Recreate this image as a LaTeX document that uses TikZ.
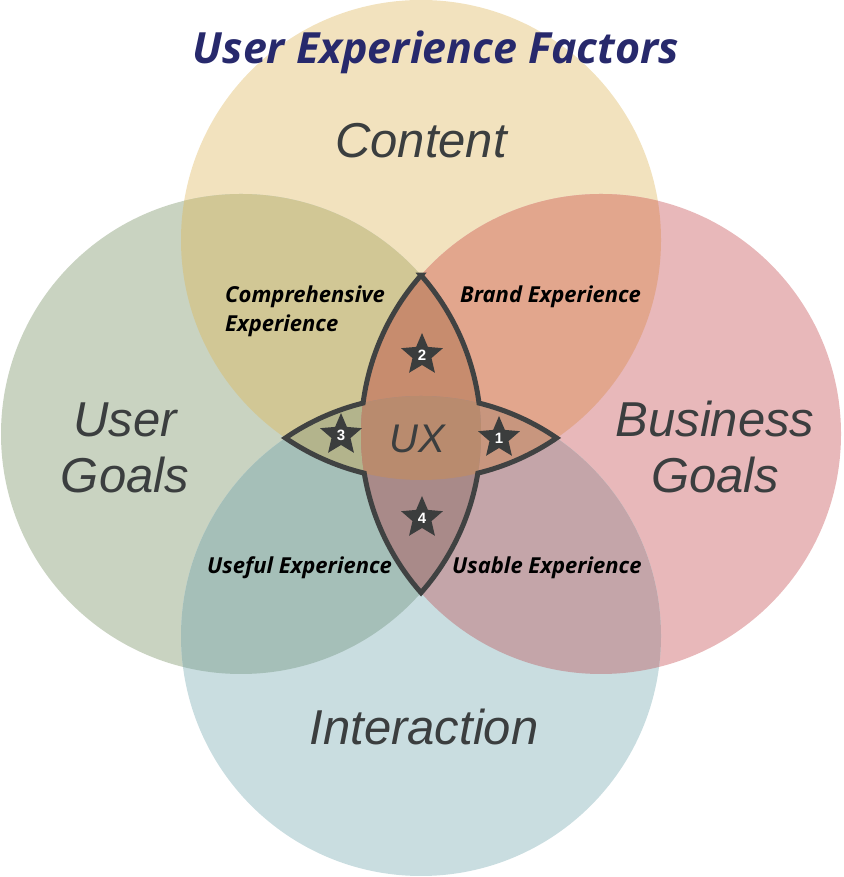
\documentclass[tikz,border=0pt]{standalone}
\usepackage{fontspec}
\setmainfont{Liberation Sans}
\newfontfamily\labfont{Open Sans}
\newfontfamily\bigfont{Liberation Sans}
\usetikzlibrary{shapes.geometric}
\definecolor{colC}{HTML}{F2E2BE}
\definecolor{colU}{HTML}{C9D3C1}
\definecolor{colB}{HTML}{E8B8BA}
\definecolor{colI}{HTML}{C9DDE0}
\definecolor{colCU}{HTML}{D1C795}
\definecolor{colCB}{HTML}{E2A68D}
\definecolor{colUI}{HTML}{A5BFB8}
\definecolor{colBI}{HTML}{C4A5A9}
\definecolor{colCUI}{HTML}{B3B48C}
\definecolor{colCBI}{HTML}{C8967E}
\definecolor{colCUB}{HTML}{C78C6E}
\definecolor{colUBI}{HTML}{A98A89}
\definecolor{colAll}{HTML}{B98B6E}
\definecolor{linegray}{HTML}{404242}
\definecolor{stargray}{HTML}{3B3D3D}
\definecolor{bigtext}{HTML}{3B3E3F}
\definecolor{titleblue}{HTML}{27296C}
\begin{document}
\begin{tikzpicture}[x=1pt,y=1pt,
  big/.style={font=\bigfont\fontsize{49}{56}\selectfont\itshape, text=bigtext, inner sep=0pt, anchor=base},
  lab/.style={font=\labfont\fontsize{22}{29}\selectfont\bfseries\itshape, text=black, inner sep=0pt, anchor=base west},
  numstar/.style={star, star points=5, star point ratio=2.2, minimum size=44pt, fill=stargray, text=white, inner sep=0pt, font=\fontsize{15}{15}\selectfont\bfseries},
  outline/.style={draw=linegray, line width=5pt, line join=miter}]
\useasboundingbox (0,0) rectangle (843,877);
\def\R{240}
\coordinate (cC) at (421,637);
\coordinate (cU) at (241,443);
\coordinate (cB) at (601,443);
\coordinate (cI) at (421,241);
% single circles
\fill[colC] (cC) circle[radius=\R];
\fill[colU] (cU) circle[radius=\R];
\fill[colB] (cB) circle[radius=\R];
\fill[colI] (cI) circle[radius=\R];
% pairwise
\begin{scope}
  \clip (cC) circle[radius=\R];
  \fill[colCU] (cU) circle[radius=\R];
  \fill[colCB] (cB) circle[radius=\R];
\end{scope}
\begin{scope}
  \clip (cI) circle[radius=\R];
  \fill[colUI] (cU) circle[radius=\R];
  \fill[colBI] (cB) circle[radius=\R];
\end{scope}
% horizontal lens
\begin{scope}
  \clip (cC) circle[radius=\R];
  \clip (cI) circle[radius=\R];
  \fill[colCUI] (cU) circle[radius=\R];
  \fill[colCBI] (cB) circle[radius=\R];
\end{scope}
% vertical lens
\begin{scope}
  \clip (cU) circle[radius=\R];
  \clip (cB) circle[radius=\R];
  \fill[colCUB] (cC) circle[radius=\R];
  \fill[colUBI] (cI) circle[radius=\R];
\end{scope}
% centre
\begin{scope}
  \clip (cC) circle[radius=\R];
  \clip (cI) circle[radius=\R];
  \clip (cU) circle[radius=\R];
  \fill[colAll] (cB) circle[radius=\R];
\end{scope}
% outline of the two lenses
\coordinate (T) at (421,601.75);
\draw[outline] (T)
  arc[start angle=41.41, end angle=7.40, radius=\R]
  arc[start angle=76.02, end angle=55.59, radius=\R]
  arc[start angle=-55.59, end angle=-76.31, radius=\R]
  arc[start angle=-9.40, end angle=-41.41, radius=\R]
  arc[start angle=221.41, end angle=189.40, radius=\R]
  arc[start angle=256.31, end angle=235.59, radius=\R]
  arc[start angle=124.41, end angle=103.98, radius=\R]
  arc[start angle=172.60, end angle=138.59, radius=\R] -- cycle;
% stars
\node[numstar] (s2) at (422,522) {2};
\node[numstar] (s3) at (341,442) {3};
\node[numstar] (s1) at (499,439) {1};
\node[numstar] (s4) at (422,359) {4};
% big labels
\node[big] (content) at (421,719) {Content};
\node[big] (user) at (125,440) {\begin{tabular}[t]{@{}c@{}}User\\Goals\end{tabular}};
\node[big] (business) at (715,440) {\begin{tabular}[t]{@{}c@{}}Business\\Goals\end{tabular}};
\node[big] (interaction) at (424,132) {Interaction};
\node[big, font=\bigfont\fontsize{40}{40}\selectfont\itshape] (ux) at (417,424) {UX};
% small labels
\node[lab] (compr) at (225,574) {\begin{tabular}[t]{@{}l@{}}Comprehensive\\Experience\end{tabular}};
\node[lab] (brand) at (460,574) {Brand Experience};
\node[lab] (useful) at (207,303) {Useful Experience};
\node[lab] (usable) at (452,303) {Usable Experience};
% title
\node[font=\labfont\fontsize{43}{43}\selectfont\bfseries\itshape, text=titleblue, inner sep=0pt, anchor=base] (title) at (436,813) {User Experience Factors};
\end{tikzpicture}
\end{document}
